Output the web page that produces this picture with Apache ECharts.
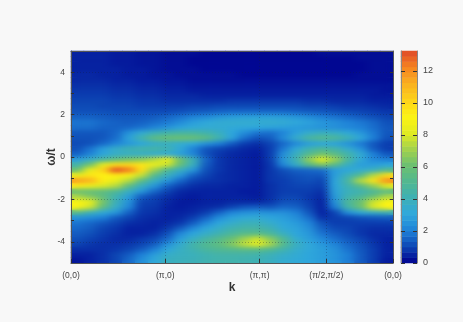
<!DOCTYPE html>
<html><head><meta charset="utf-8">
<style>html,body{margin:0;padding:0;background:#f8f8f8}#c{width:463px;height:322px;filter:blur(0.35px)}
#c canvas[data-zr-dom-id="zr_1"]{filter:url(#soft);clip-path:inset(51px 70px 59px 71px)}</style>
<script src="https://cdn.jsdelivr.net/npm/echarts@6/dist/echarts.min.js"></script>
</head><body>
<svg width="0" height="0" style="position:absolute"><filter id="soft" x="0" y="0" width="100%" height="100%" color-interpolation-filters="sRGB"><feGaussianBlur stdDeviation="5 2"/></filter></svg>
<div id="c"></div>
<script>
const kTickLabels = ['(0,0)','(π,0)','(π,π)','(π/2,π/2)','(0,0)'];
const kTickPositions = [0,1,2,2.7071,3.4142];
const omegaCenters = [4.875,4.625,4.375,4.125,3.875,3.625,3.375,3.125,2.875,2.625,2.375,2.125,1.875,1.625,1.375,1.125,0.875,0.625,0.375,0.125,-0.125,-0.375,-0.625,-0.875,-1.125,-1.375,-1.625,-1.875,-2.125,-2.375,-2.625,-2.875,-3.125,-3.375,-3.625,-3.875,-4.125,-4.375,-4.625,-4.875];
const spectralWeight = [
[.5,.5,.5,.4,.4,.3,.3,.2,.2,.2,.1,.1,.1,.1,.1,.1,.1,.1,.1,.2,.2,.2,.2,.2,.2],
[.5,.5,.5,.4,.4,.3,.3,.2,.2,.1,.1,.1,.1,.1,.1,.1,.1,.1,.1,.1,.1,.1,.2,.2,.2],
[.5,.5,.5,.4,.4,.3,.3,.2,.2,.1,.1,.1,.1,.1,.1,.1,.1,.1,.1,.1,.1,.1,.1,.2,.2],
[.5,.5,.5,.5,.4,.4,.3,.2,.2,.2,.1,.1,.1,.1,.1,.1,.1,.1,.1,.1,.1,.1,.1,.2,.2],
[.6,.6,.5,.5,.4,.4,.3,.3,.2,.2,.2,.2,.2,.1,.1,.1,.1,.1,.1,.1,.1,.1,.2,.2,.2],
[.6,.6,.6,.5,.5,.4,.4,.3,.3,.2,.2,.2,.2,.2,.2,.2,.2,.2,.2,.2,.2,.2,.2,.2,.2],
[.7,.7,.7,.6,.6,.5,.5,.4,.4,.3,.3,.3,.3,.3,.3,.3,.3,.3,.3,.3,.3,.3,.3,.3,.3],
[.8,.8,.8,.7,.7,.6,.6,.5,.5,.4,.4,.4,.4,.4,.4,.4,.4,.4,.4,.4,.4,.4,.4,.4,.3],
[.9,.9,.9,.8,.8,.7,.7,.6,.6,.6,.5,.5,.5,.5,.5,.5,.5,.5,.5,.5,.5,.5,.5,.4,.4],
[1,1,1,.9,.9,.8,.8,.7,.7,.7,.7,.7,.8,.8,.8,.8,.8,.8,.7,.7,.6,.6,.6,.5,.5],
[1.1,1.1,1,1,1,.9,.9,.9,.9,1,1,1.1,1.1,1.1,1.1,1.1,1.1,1.1,1,1,.9,.8,.8,.7,.6],
[1.2,1.2,1.2,1.1,1.1,1.1,1.1,1.1,1.2,1.3,1.4,1.5,1.6,1.6,1.6,1.6,1.6,1.5,1.4,1.3,1.2,1.1,1,.9,.8],
[1.5,1.5,1.4,1.3,1.3,1.3,1.4,1.6,1.8,2.1,2.3,2.6,2.8,2.9,2.9,2.9,2.8,2.6,2.3,2,1.8,1.6,1.4,1.2,1],
[1.8,1.8,1.6,1.5,1.4,1.5,1.7,1.9,2.3,2.8,3.1,3.3,3.4,3.4,3.4,3.4,3.3,3.1,2.9,2.6,2.4,2.1,1.9,1.6,1.2],
[1.7,1.7,1.5,1.5,1.6,1.8,2.1,2.5,2.9,3.2,3.3,3.3,3.2,3.1,3,2.9,2.8,2.7,2.6,2.5,2.4,2.2,2,1.7,1.3],
[1.3,1.3,1.3,1.6,2.5,3.3,4,4.4,4.6,4.6,4.3,3.8,3,2.3,1.8,1.7,2.1,2.9,3.5,3.8,3.7,3.2,2.6,1.9,1.3],
[1.2,1.2,1.3,1.7,2.9,4.3,5.6,6,6.1,6,5.5,4.3,2.9,1.7,1.2,1.4,2.3,3.5,4.7,5.2,4.9,4.1,3.1,2,1.2],
[1.1,1.2,1.6,2.1,2.6,3,3.5,3.7,3.4,3.1,2.5,2,1.4,.9,.7,1,1.6,2.2,2.8,3,2.9,2.5,1.9,1.3,.9],
[1.2,1.8,2.8,3.6,4.1,4.4,4.5,4.2,3.2,2.1,1.3,1,.8,.6,.5,.9,1.9,3.2,4.2,4.8,4.4,3.5,2.5,1.4,.9],
[1.5,2.1,3,3.6,3.7,3.6,3.4,3.2,2.8,2.1,1.2,.8,.6,.5,.4,.9,2.4,3.8,5.2,6.2,5.4,4.4,3.3,2,1.3],
[2.8,3.6,4.6,5.6,6.3,6.6,7.4,8.6,6.2,4.1,1.6,.8,.6,.5,.4,.9,2.6,4.2,6.8,8.3,7,4.8,3.2,2.2,2],
[4.4,6.2,8.2,9.8,10,9.6,8.4,7.8,5.8,3.8,1.4,.8,.6,.5,.4,.8,2.2,3.6,5.4,6.5,5.4,3.8,2.8,2.8,3],
[6,8.4,10.2,13.2,12.4,9.8,7,5,3.8,2.6,1.2,.8,.6,.5,.4,.8,1.2,1.5,1.6,1.7,2.8,3,3.4,3.8,5],
[8.6,9.6,9.2,9.4,9,7.6,5.2,3.8,2.6,1.5,1,.7,.6,.5,.4,.8,1,1.2,1.3,1.3,2.8,4,5.2,7.4,9.8],
[11.6,11.2,9.4,8.4,7.4,5.5,3.8,2.6,1.6,1,.8,.7,.6,.5,.4,.8,.9,1.1,1.2,1,3,4.6,7.4,9.6,12],
[9.4,8.6,8,7.4,5.6,3.8,2.6,1.5,1,.7,.6,.6,.5,.5,.4,.7,.9,1,1,.9,3,4.2,5.4,6.8,8.2],
[6,5.8,5.6,5,3.8,2.6,1.6,1,.6,.5,.5,.5,.5,.4,.4,.7,.9,.9,.9,.7,2.9,3.9,4.2,4.8,5.4],
[7.2,6.5,5.6,4.2,2.8,1.4,1,.7,.5,.4,.5,.5,.5,.5,.4,.7,1,1,.8,.6,2.7,4.2,4.9,6,7.2],
[9,8.4,6.3,4,2.5,1,.9,.6,.4,.4,.5,.5,.6,.6,.6,.8,1.2,1.2,.9,.5,2.5,4.8,6,7.8,9],
[9,7.8,5.6,3.6,2.2,.9,.8,.5,.4,.5,.6,.7,1,1.3,1.4,1.3,1.6,1.5,1,.5,2,4.4,6,8,9.2],
[5.2,4,3.2,2.6,1.5,.8,.7,.5,.5,.6,.9,1.5,2.1,2.4,2.5,2.4,2.4,2,1.3,.5,1,2.4,3.2,3.6,4],
[2.5,2.3,2,1.4,1,.7,.6,.5,.6,.9,1.5,2.3,2.9,3.2,3.3,3,2.8,2.4,1.7,.7,.9,1,1.2,1.3,1.4],
[1.8,1.6,1.3,1,.7,.6,.5,.6,.8,1.4,2.2,3,3.5,3.9,3.9,3.5,3,2.7,2.1,1.2,.9,.9,.9,.9,.9],
[1.6,1.4,1,.8,.5,.5,.5,.8,1.4,2.2,3,3.6,4.2,4.5,4.5,4.1,3.2,2.9,2.4,1.5,1.1,1,.8,.7,.7],
[1.4,1.2,.9,.7,.5,.5,.7,1.2,2.2,3,3.6,4.2,4.8,5.3,5.4,4.8,3.8,3,2.6,1.8,1.4,1.1,.8,.6,.6],
[1.2,1,.8,.6,.6,.8,1,1.6,2.8,3.7,4.5,5.2,6,7,7.8,6.6,5,3.4,2.8,2.2,1.7,1.3,1,.7,.5],
[1,.8,.7,.7,.8,1,1.4,2.4,3.4,4.4,5.1,5.6,6.5,7.6,8.4,7.2,5.2,3.8,3.1,2.6,2.1,1.6,1.2,.8,.5],
[.7,.7,.7,.8,1,1.4,2,3,3.7,4.2,4.7,5,5.2,5.4,5.4,5,4.3,3.5,3.1,2.8,2.4,1.8,1.3,.9,.5],
[.5,.5,.7,1,1.4,2,2.8,3.6,3.8,3.9,4.2,4.4,4.4,4.4,4.3,4,3.6,3.3,3,2.8,2.5,2,1.4,.9,.5],
[.3,.5,.7,1,1.6,2.4,3.1,3.8,3.9,4,4.2,4.3,4.3,4.2,4.1,3.8,3.4,3.2,3,2.8,2.5,2,1.4,.9,.4]
];
const colorStops = ['#00008e','#0d46b4','#1f82d8','#2fa8dc','#3eb0b4','#52b890','#6cc070','#a4d24c','#e2ec20','#fdf313','#fdd21a','#fab020','#f58420','#e04a28'];
const colorbarMax = 13.25;
const colorbarTicks = [0,2,4,6,8,10,12];

const columns = spectralWeight[0].map((_,i)=>i);
const rowsBottomUp = omegaCenters.slice().reverse();
const heatData = [];
omegaCenters.forEach((w,r)=>columns.forEach(c=>heatData.push([c,String(w),spectralWeight[r][c]])));
const barLevels = Array.from({length:40},(_,i)=>(i+0.5)*colorbarMax/40);
const barData = barLevels.map(v=>[0,String(v),v]);

const ink='#444', frame='#555';
const lab={color:ink,fontFamily:'Liberation Sans',fontSize:8.5};
const main={left:71,right:70,top:51,bottom:59};
const cb={left:401,right:46,top:51,bottom:59};
const layerTop={zlevel:2,z:6};
const valX=(extra)=>Object.assign({type:'value',gridIndex:0,min:0,max:3.4142,axisLine:{show:true,onZero:false,lineStyle:{color:frame,width:1}},axisTick:{show:false},axisLabel:{show:false},splitLine:{show:false}},layerTop,extra);
const valY=(extra)=>Object.assign({type:'value',gridIndex:0,min:-5,max:5,axisLine:{show:true,onZero:false,lineStyle:{color:frame,width:1}},axisTick:{show:false},axisLabel:{show:false},splitLine:{show:false}},layerTop,extra);
const dotted={show:true,lineStyle:{color:'rgba(20,30,60,0.3)',width:1,type:[1,2]}};
const omegaTicks=[-4,-3,-2,-1,0,1,2,3,4];
const omegaLabels=[-4,-2,0,2,4];
const chart=echarts.init(document.getElementById('c'),null,{renderer:'canvas'});
chart.setOption({
 animation:false,backgroundColor:'#f8f8f8',
 grid:[main,cb],
 xAxis:[
  {type:'category',gridIndex:0,data:columns.map(String),show:false},
  valX({position:'bottom',
    axisTick:{show:true,inside:true,length:4,customValues:kTickPositions,lineStyle:{color:'#333'}},
    axisLabel:{show:true,customValues:kTickPositions,margin:8,hideOverlap:false,showMinLabel:true,showMaxLabel:true,...lab,formatter:v=>kTickLabels[kTickPositions.indexOf(v)]},
    splitLine:dotted,
    name:'k',nameLocation:'middle',nameGap:19,nameMoveOverlap:false,nameTextStyle:{color:'#333',fontFamily:'Liberation Sans',fontSize:12,fontWeight:'bold'}}),
  valX({position:'top'}),
  {type:'category',gridIndex:1,data:['0'],show:false}
 ],
 yAxis:[
  {type:'category',gridIndex:0,data:rowsBottomUp.map(String),show:false},
  valY({position:'left',
    axisTick:{show:true,inside:true,length:3,customValues:omegaTicks,lineStyle:{color:'#333'}},
    axisLabel:{show:true,customValues:omegaLabels,margin:6,...lab},
    name:'ω/t',nameLocation:'middle',nameGap:13,nameRotate:90,nameMoveOverlap:false,nameTextStyle:{color:'#333',fontFamily:'Liberation Sans',fontSize:12,fontWeight:'bold'}}),
  valY({position:'right',axisTick:{show:true,inside:true,length:3,customValues:omegaTicks,lineStyle:{color:'#333'}}}),
  valY({position:'left',axisLine:{show:false},axisTick:{show:false,customValues:omegaLabels},splitLine:dotted}),
  {type:'category',gridIndex:1,data:barLevels.map(String),show:false},
  {type:'value',gridIndex:1,position:'right',min:0,max:colorbarMax,zlevel:2,z:6,
    axisLine:{show:true,onZero:false,lineStyle:{color:'#888'}},
    axisTick:{show:true,inside:true,length:4,customValues:colorbarTicks,lineStyle:{color:'#333'}},
    axisLabel:{show:true,customValues:colorbarTicks,margin:6,...lab,fontSize:9},splitLine:{show:false}},
  {type:'value',gridIndex:1,position:'left',min:0,max:colorbarMax,zlevel:2,z:6,
    axisLine:{show:true,onZero:false,lineStyle:{color:'#888'}},
    axisTick:{show:true,inside:true,length:4,customValues:colorbarTicks,lineStyle:{color:'#333'}},
    axisLabel:{show:false},splitLine:{show:false}}
 ],
 visualMap:{show:false,type:'continuous',min:0,max:colorbarMax,seriesIndex:[0,1,2],inRange:{color:colorStops},dimension:2},
 series:[
  {type:'heatmap',xAxisIndex:0,yAxisIndex:0,data:heatData,z:1,zlevel:0,silent:true,progressive:0,itemStyle:{borderWidth:0}},
  {type:'heatmap',xAxisIndex:3,yAxisIndex:4,data:barData,z:1,zlevel:0,silent:true,progressive:0,itemStyle:{borderWidth:0}},
  {type:'heatmap',xAxisIndex:0,yAxisIndex:0,data:heatData,z:1,zlevel:1,silent:true,progressive:0,itemStyle:{borderWidth:0}}
 ]
});
</script></body></html>
